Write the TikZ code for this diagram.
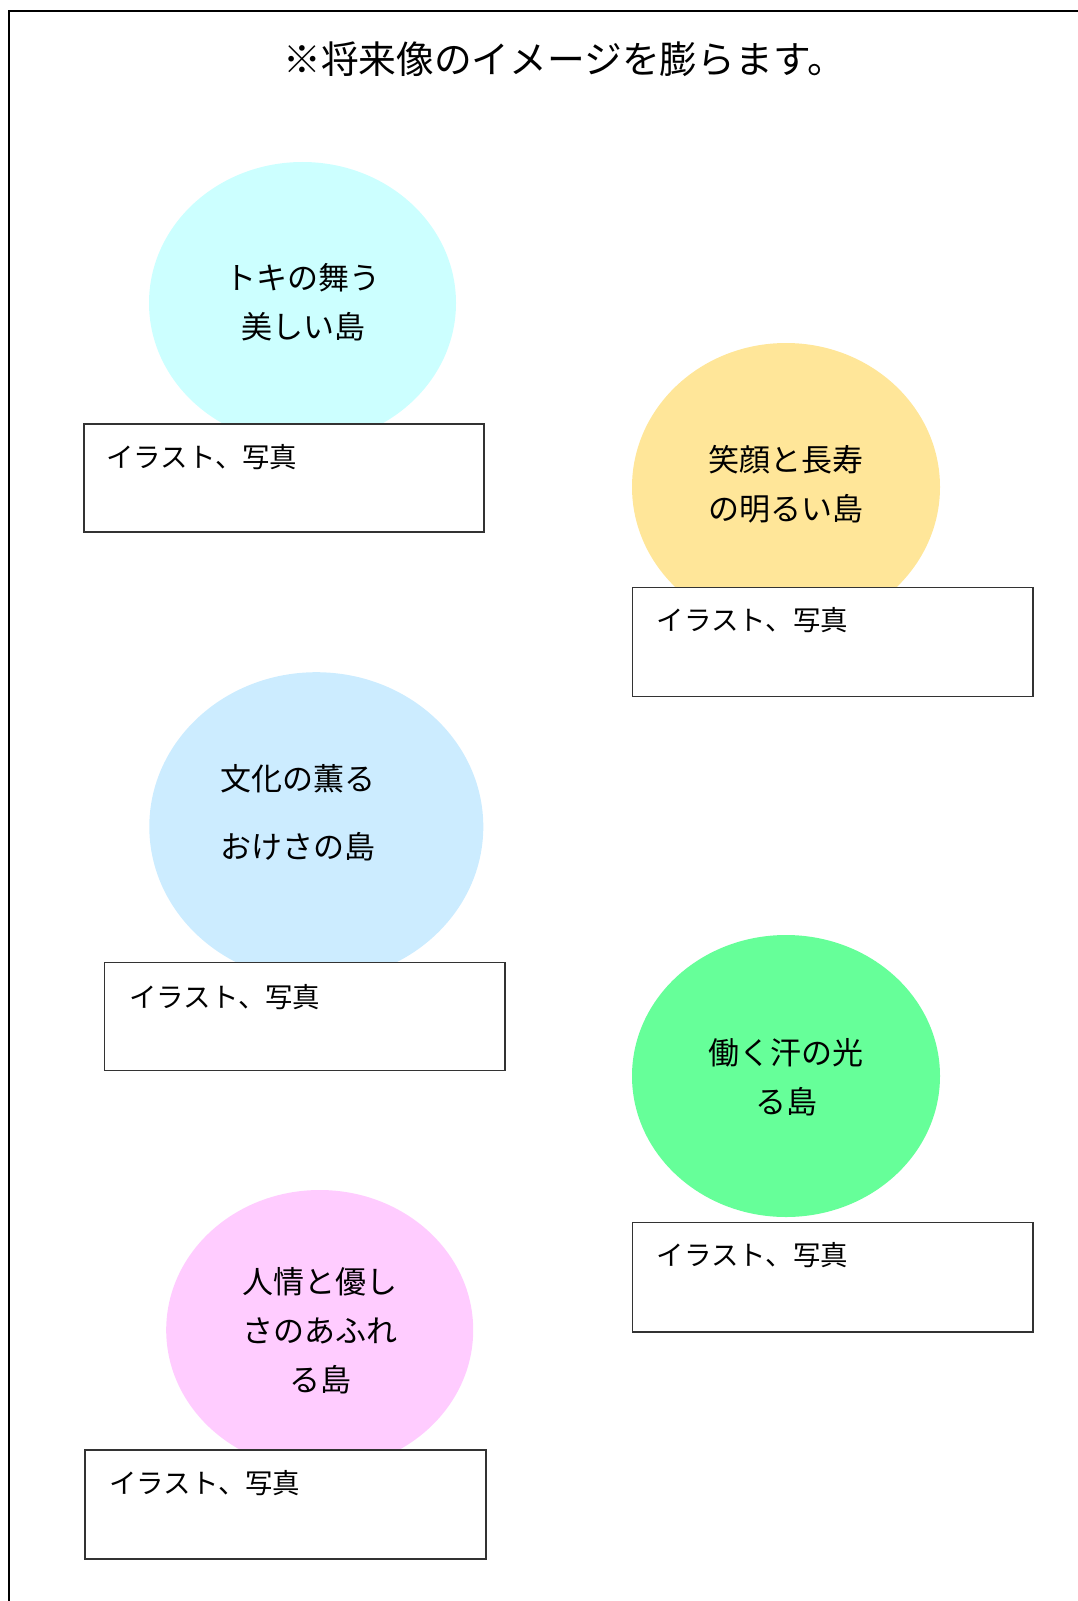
\documentclass[tikz,border=0pt]{standalone}
\usepackage{fontspec}
\newfontfamily\jp{Noto Sans CJK JP}
\usetikzlibrary{shapes.geometric}
\definecolor{cCyan}{HTML}{CCFFFF}
\definecolor{cYellow}{HTML}{FFE699}
\definecolor{cBlue}{HTML}{CCECFF}
\definecolor{cGreen}{HTML}{66FF99}
\definecolor{cPink}{HTML}{FFCCFF}
\tikzset{
  blob/.style={ellipse, draw=none, inner sep=0pt},
  photobox/.style={draw=black!80, line width=0.8pt, fill=white},
  boxtext/.style={anchor=west, inner sep=0pt, font=\jp\fontsize{20.6}{24}\selectfont},
  circtext/.style={align=center, inner sep=0pt, font=\jp\fontsize{23.25}{36.75}\selectfont},
}
\begin{document}
\begin{tikzpicture}[x=0.75pt,y=-0.75pt]
\useasboundingbox (0,0) rectangle (1077,1601);
% frame (top and left edges visible)
\coordinate (fb) at (8.5,1610);
\coordinate (fc) at (8.5,11);
\coordinate (fr) at (1090,11);
\draw[line width=1.5pt] (fb) -- (fc) -- (fr);
% title
\node[inner sep=0pt, font=\jp\fontsize{28.3}{32}\selectfont] (title) at (564,59) {※将来像のイメージを膨らます。};
% circles
\node[blob, fill=cCyan, minimum width=307*0.75pt, minimum height=282*0.75pt] (c1) at (302.5,303) {};
\node[blob, fill=cYellow, minimum width=308*0.75pt, minimum height=288*0.75pt] (c2) at (786,487) {};
\node[blob, fill=cBlue, minimum width=334*0.75pt, minimum height=309*0.75pt] (c3) at (316.3,826.7) {};
\node[blob, fill=cGreen, minimum width=308*0.75pt, minimum height=282*0.75pt] (c4) at (786,1076) {};
\node[blob, fill=cPink, minimum width=307*0.75pt, minimum height=280*0.75pt] (c5) at (319.7,1330) {};
% circle texts
\node[circtext] (t1) at (303,302.5) {トキの舞う\\美しい島};
\node[circtext] (t2) at (786,484) {笑顔と長寿\\の明るい島};
\node[circtext, font=\jp\fontsize{23.25}{51}\selectfont] (t3) at (298,812.5) {文化の薫る\\おけさの島};
\node[circtext] (t4) at (786,1077.5) {働く汗の光\\る島};
\node[circtext] (t5) at (320,1331) {人情と優し\\さのあふれ\\る島};
% photo boxes
\draw[photobox] (84,424) rectangle (484,532);
\draw[photobox] (632.7,587.7) rectangle (1033,696.7);
\draw[photobox] (104.7,962.3) rectangle (505,1070.7);
\draw[photobox] (632.7,1222.7) rectangle (1033,1332);
\draw[photobox] (85,1450) rectangle (486,1559);
% box texts
\node[boxtext] (b1) at (106,457) {イラスト、写真};
\node[boxtext] (b2) at (656.7,620) {イラスト、写真};
\node[boxtext] (b3) at (129,996.7) {イラスト、写真};
\node[boxtext] (b4) at (656.7,1255) {イラスト、写真};
\node[boxtext] (b5) at (109,1483) {イラスト、写真};
\end{tikzpicture}
\end{document}
